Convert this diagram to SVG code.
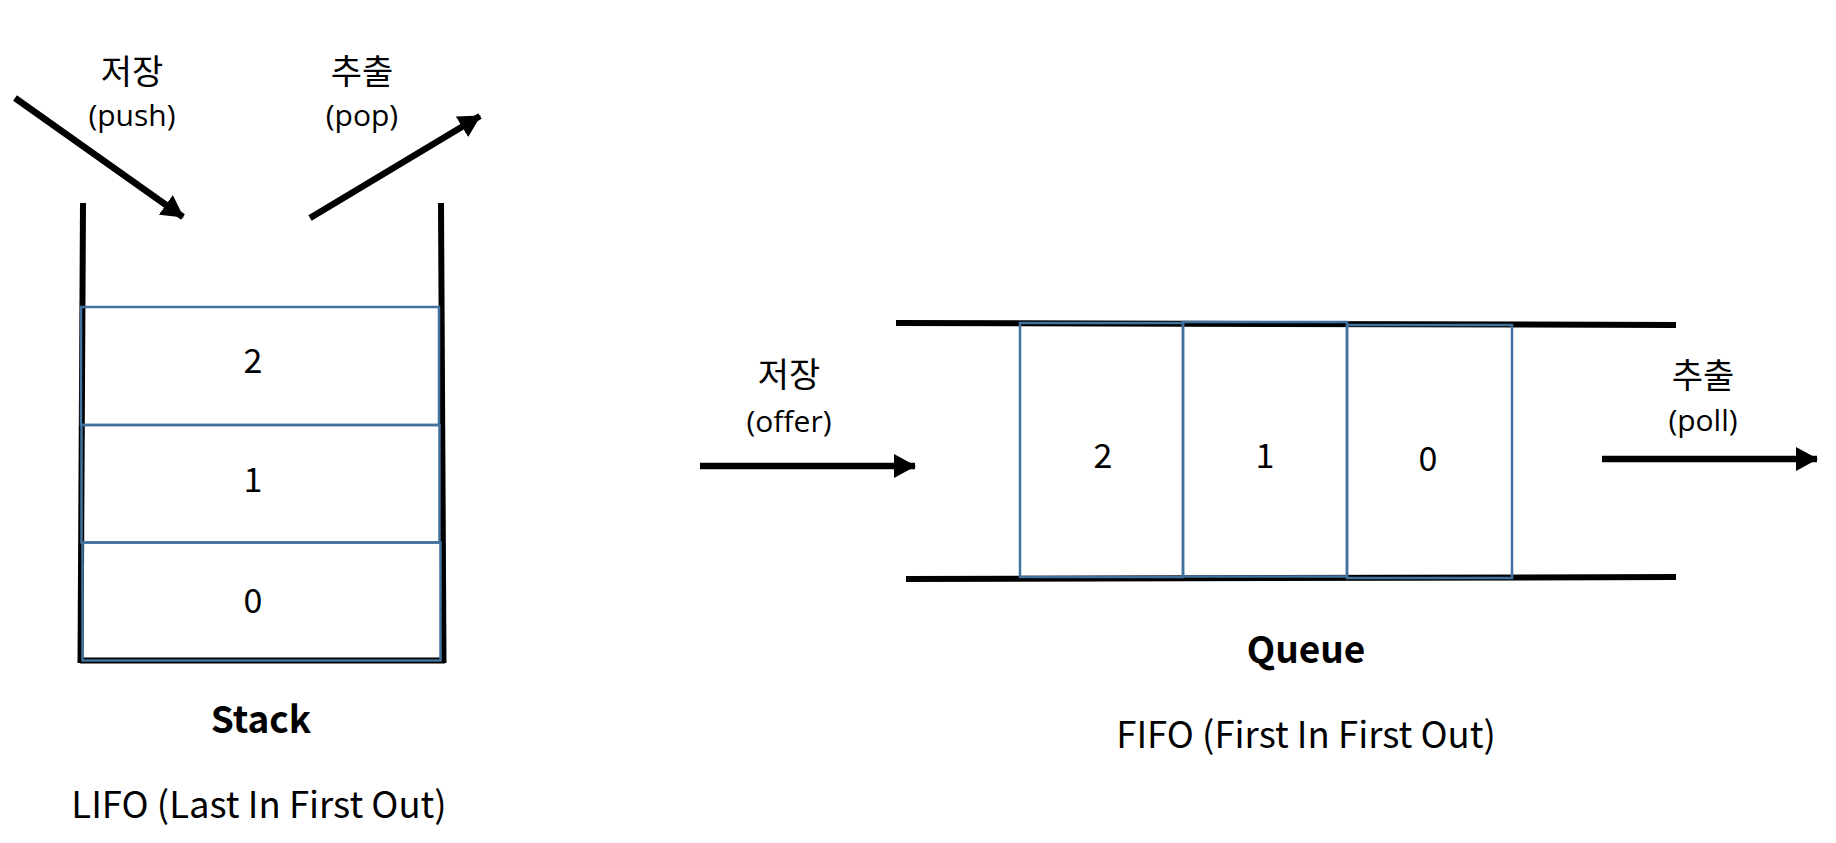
<svg xmlns="http://www.w3.org/2000/svg" width="1836" height="843" viewBox="0 0 1836 843">
<style>
.t{font-family:"Noto Sans CJK KR","Noto Sans",sans-serif;fill:#000;text-anchor:middle}
.ko{font-size:34px}
.en{font-family:"Open Sans","Noto Sans",sans-serif;font-size:30px;fill:#000;text-anchor:middle}
.num{font-size:34px}
.ttl{font-size:37px;font-weight:bold}
.sub{font-size:36.5px}
.wall{stroke:#000;stroke-width:6;fill:none}
.cell{fill:none;stroke:#41719C;stroke-width:2.5}
.arr{stroke:#000;stroke-width:6.5;fill:none;marker-end:url(#ah)}
</style>
<defs>
<marker id="ah" markerUnits="userSpaceOnUse" viewBox="0 0 22 24" refX="21" refY="12" markerWidth="22" markerHeight="24" orient="auto">
<path d="M0,0 L22,12 L0,24 Z" fill="#000"/>
</marker>
</defs>
<rect width="1836" height="843" fill="#fff"/>
<g id="stack">
<line class="wall" x1="83" y1="203" x2="80.5" y2="663"/>
<line class="wall" x1="441" y1="203" x2="443.5" y2="663"/>
<line class="wall" x1="80" y1="660.5" x2="445" y2="660.5"/>
</g>
<g id="stack-2"><rect class="cell" x="81" y="307" width="358" height="118"/><text class="t num" x="253" y="373">2</text></g>
<g id="stack-1"><rect class="cell" x="81.5" y="425" width="358" height="117.5"/><text class="t num" x="253" y="492">1</text></g>
<g id="stack-0"><rect class="cell" x="82.5" y="542.5" width="358" height="118"/><text class="t num" x="253" y="613">0</text></g>
<g id="queue">
<line class="wall" x1="896" y1="323" x2="1676" y2="325"/>
<line class="wall" x1="906" y1="579" x2="1676" y2="577"/>
</g>
<g id="queue-2"><rect class="cell" x="1020" y="323" width="163" height="254"/><text class="t num" x="1103" y="468">2</text></g>
<g id="queue-1"><rect class="cell" x="1183" y="322" width="164" height="254.5"/><text class="t num" x="1265" y="468">1</text></g>
<g id="queue-0"><rect class="cell" x="1347" y="325" width="165" height="253"/><text class="t num" x="1428" y="471">0</text></g>
<g id="labels">
<text class="t ko" x="132" y="84">저장</text>
<text class="en" x="132" y="126">(push)</text>
<text class="t ko" x="362" y="84">추출</text>
<text class="en" x="362" y="126">(pop)</text>
<text class="t ko" x="789" y="387">저장</text>
<text class="en" x="789" y="432">(offer)</text>
<text class="t ko" x="1703" y="388">추출</text>
<text class="en" x="1703" y="431">(poll)</text>
<text class="t ttl" x="261" y="733">Stack</text>
<text class="t sub" x="259" y="818">LIFO (Last In First Out)</text>
<text class="t ttl" x="1306" y="663">Queue</text>
<text class="t sub" x="1306" y="748">FIFO (First In First Out)</text>
</g>
<g id="connectors">
<line class="arr" x1="15" y1="98" x2="183" y2="217"/>
<line class="arr" x1="310" y1="218" x2="480" y2="116"/>
<line class="arr" x1="700" y1="466" x2="915" y2="466"/>
<line class="arr" x1="1602" y1="459" x2="1817" y2="459"/>
</g>
</svg>
